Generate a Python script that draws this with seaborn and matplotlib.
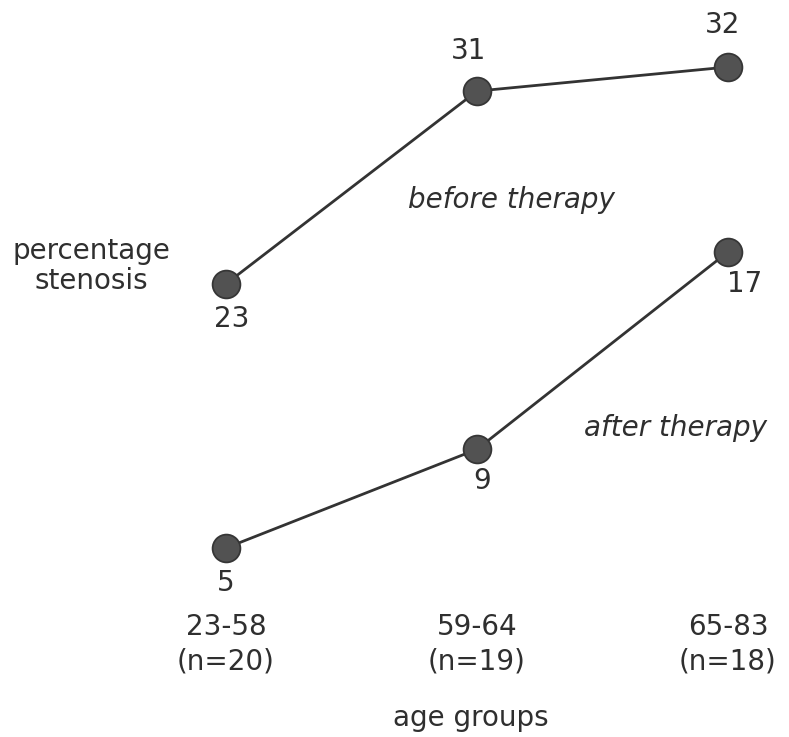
import pandas as pd
import matplotlib
matplotlib.use("Agg")
import matplotlib.pyplot as plt
import matplotlib.transforms as mtransforms
import seaborn as sns

age_groups = ["23-58\n(n=20)", "59-64\n(n=19)", "65-83\n(n=18)"]
before_therapy = [23, 31, 32]
after_therapy = [5, 9, 17]

# label offsets (points) of each value label relative to its marker
before_offsets = [(4, -25), (-6, 29), (-4, 30)]
after_offsets = [(0, -25), (4, -23), (12, -23)]

sns.set_theme(style="white")
plt.rcParams["font.family"] = ["DejaVu Sans"]

ink = "#2f2f2f"
dot = "#525252"
fs = 20

fig = plt.figure(figsize=(7.89, 7.37), dpi=100)
fig.patch.set_facecolor("white")

# two overlaid panels: each series has its own vertical scale in the original
ax_b = fig.add_axes([0, 0, 1, 1])
ax_a = fig.add_axes([0, 0, 1, 1])
for ax in (ax_b, ax_a):
    ax.patch.set_alpha(0)
    ax.set_axis_off()
    ax.set_xlim(-0.900, 2.243)
ax_b.set_ylim(4.2, 34.78)
ax_a.set_ylim(-2.66, 27.21)

df_b = pd.DataFrame({"x": range(len(age_groups)), "y": before_therapy})
df_a = pd.DataFrame({"x": range(len(age_groups)), "y": after_therapy})

for ax, df, offs in ((ax_b, df_b, before_offsets), (ax_a, df_a, after_offsets)):
    sns.lineplot(data=df, x="x", y="y", ax=ax, color="#333333", linewidth=2.0,
                 marker="o", markersize=20, markerfacecolor=dot,
                 markeredgecolor="#363636", markeredgewidth=1.3)
    for (x, y), (dx, dy) in zip(df[["x", "y"]].values, offs):
        ax.annotate(str(y), (x, y), xytext=(dx, dy), textcoords="offset points",
                    ha="center", va="center", fontsize=fs, color=ink)
    ax.set_xlabel("")
    ax.set_ylabel("")

trans = mtransforms.blended_transform_factory(ax_a.transData, fig.transFigure)
for i, lab in enumerate(age_groups):
    ax_a.text(i, 1 - 644 / 737, lab, transform=trans, ha="center", va="center",
              fontsize=fs, color=ink, linespacing=1.3)

fig.text(511 / 789, 1 - 200 / 737, "before therapy", ha="center", va="center",
         fontsize=fs, style="italic", color=ink)
fig.text(676 / 789, 1 - 428 / 737, "after therapy", ha="center", va="center",
         fontsize=fs, style="italic", color=ink)
fig.text(91 / 789, 1 - 266 / 737, "percentage\nstenosis", ha="center", va="center",
         fontsize=fs, color=ink, linespacing=1.05)
fig.text(471 / 789, 1 - 718 / 737, "age groups", ha="center", va="center",
         fontsize=fs, color=ink)

fig.savefig("out.png", dpi=100, facecolor="white")
